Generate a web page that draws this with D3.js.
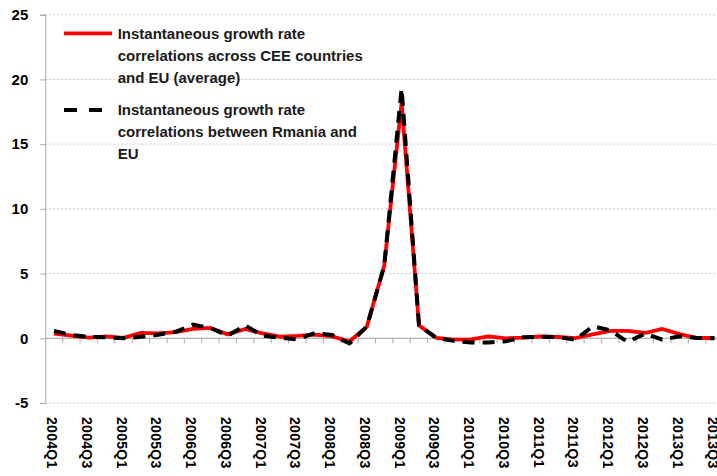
<!DOCTYPE html>
<html lang="en">
<head>
    <meta charset="UTF-8">
    <title>Growth rate correlations</title>
    <style>
        body { margin: 0; background: #fff; }
        svg { display: block; font-family: "Liberation Sans", Arial, sans-serif; font-weight: bold; }
    </style>
</head>
<body>
    <div id="chart"></div>
    <script src="https://cdnjs.cloudflare.com/ajax/libs/d3/7.8.5/d3.min.js"></script>
    <script>
        // quarters 2004Q1 .. 2013Q3
        const quarters = [];
        for (let y = 2004; y <= 2013; y++) {
            for (let q = 1; q <= 4; q++) {
                if (y === 2013 && q > 3) break;
                quarters.push(y + "Q" + q);
            }
        }
        const ceeAvg = [0.36, 0.2, 0.05, 0.15, 0.03, 0.42, 0.38, 0.48, 0.72, 0.8,
                        0.3, 0.72, 0.38, 0.12, 0.18, 0.28, 0.15, -0.25, 0.9, 5.6,
                        18.2, 1.0, 0.03, -0.1, -0.08, 0.15, 0, 0.05, 0.15, 0.1,
                        0.02, 0.3, 0.57, 0.57, 0.41, 0.72, 0.32, 0.02, 0.02];
        const romEu = [0.57, 0.26, 0.1, 0.08, 0, 0.12, 0.28, 0.5, 1.05, 0.8,
                       0.2, 1.0, 0.2, 0.05, -0.08, 0.4, 0.25, -0.4, 0.9, 5.6,
                       19.3, 1.0, 0.03, -0.2, -0.33, -0.33, -0.23, 0.08, 0.12, 0.1,
                       -0.12, 0.93, 0.62, -0.28, 0.36, -0.1, 0.15, 0.02, 0];
        const yTicks = [-5, 0, 5, 10, 15, 20, 25];
        const legendCee = ["Instantaneous growth rate", "correlations across CEE countries", "and EU (average)"];
        const legendRom = ["Instantaneous growth rate", "correlations between Rmania and", "EU"];

        const W = 717, H = 476;
        const left = 45.3, step = 17.38;

        const svg = d3.select("#chart").append("svg")
            .attr("width", W).attr("height", H);

        const x = d3.scaleBand().domain(quarters)
            .range([left, left + step * quarters.length]).padding(0);
        const y = d3.scaleLinear().domain([-5, 25]).range([403, 14.7]);

        // gridlines
        svg.append("g").selectAll("line").data(yTicks).join("line")
            .attr("x1", left).attr("x2", W)
            .attr("y1", d => y(d)).attr("y2", d => y(d))
            .attr("stroke", "#c8c8c8").attr("stroke-width", 1)
            .attr("stroke-dasharray", "2,2");

        // y axis
        const yAxis = svg.append("g").attr("transform", `translate(${left},0)`)
            .call(d3.axisLeft(y).tickValues(yTicks).tickFormat(d => String(d))
                .tickSize(5).tickPadding(12));
        yAxis.select(".domain").attr("stroke", "#a6a6a6");
        yAxis.selectAll(".tick line").attr("stroke", "#a6a6a6");
        yAxis.selectAll("text").attr("font-size", 15).attr("fill", "#000")
            .attr("font-family", "Liberation Sans, Arial, sans-serif").attr("font-weight", "bold");

        // x axis at zero
        const boundaries = d3.range(1, quarters.length + 1).map(i => left + i * step);
        svg.append("line").attr("x1", left).attr("x2", W)
            .attr("y1", y(0)).attr("y2", y(0)).attr("stroke", "#a6a6a6");
        svg.append("g").selectAll("line").data(boundaries).join("line")
            .attr("x1", d => d).attr("x2", d => d)
            .attr("y1", y(0)).attr("y2", y(0) + 5)
            .attr("stroke", "#a6a6a6");

        // x labels, every second quarter
        svg.append("g").selectAll("text")
            .data(quarters.filter((d, i) => i % 2 === 0)).join("text")
            .attr("transform", d => `translate(${x(d) + x.bandwidth() / 2 - 2},417) rotate(90)`)
            .attr("dy", "0.35em")
            .attr("font-size", 14)
            .attr("letter-spacing", 0.3)
            .text(d => d);

        const line = d3.line()
            .x((d, i) => x(quarters[i]) + x.bandwidth() / 2)
            .y(d => y(d));

        svg.append("path").datum(ceeAvg).attr("d", line)
            .attr("fill", "none").attr("stroke", "#ff0000")
            .attr("stroke-width", 3.8).attr("stroke-linejoin", "round");
        svg.append("path").datum(romEu).attr("d", line)
            .attr("fill", "none").attr("stroke", "#000")
            .attr("stroke-width", 4).attr("stroke-dasharray", "12,8");

        // legend
        const lg = svg.append("g").attr("fill", "#1a1a1a");
        lg.append("line").attr("x1", 64).attr("x2", 112).attr("y1", 33.3).attr("y2", 33.3)
            .attr("stroke", "#ff0000").attr("stroke-width", 3.8);
        lg.append("line").attr("x1", 64).attr("x2", 103).attr("y1", 110).attr("y2", 110)
            .attr("stroke", "#000").attr("stroke-width", 4).attr("stroke-dasharray", "13,12");
        lg.selectAll("text.a").data(legendCee).join("text").attr("class", "a")
            .attr("x", 117.7).attr("y", (d, i) => 39 + i * 22)
            .attr("font-size", 15).text(d => d);
        lg.selectAll("text.b").data(legendRom).join("text").attr("class", "b")
            .attr("x", 117.7).attr("y", (d, i) => 115 + i * 22)
            .attr("font-size", 15).text(d => d);
    </script>
</body>
</html>
